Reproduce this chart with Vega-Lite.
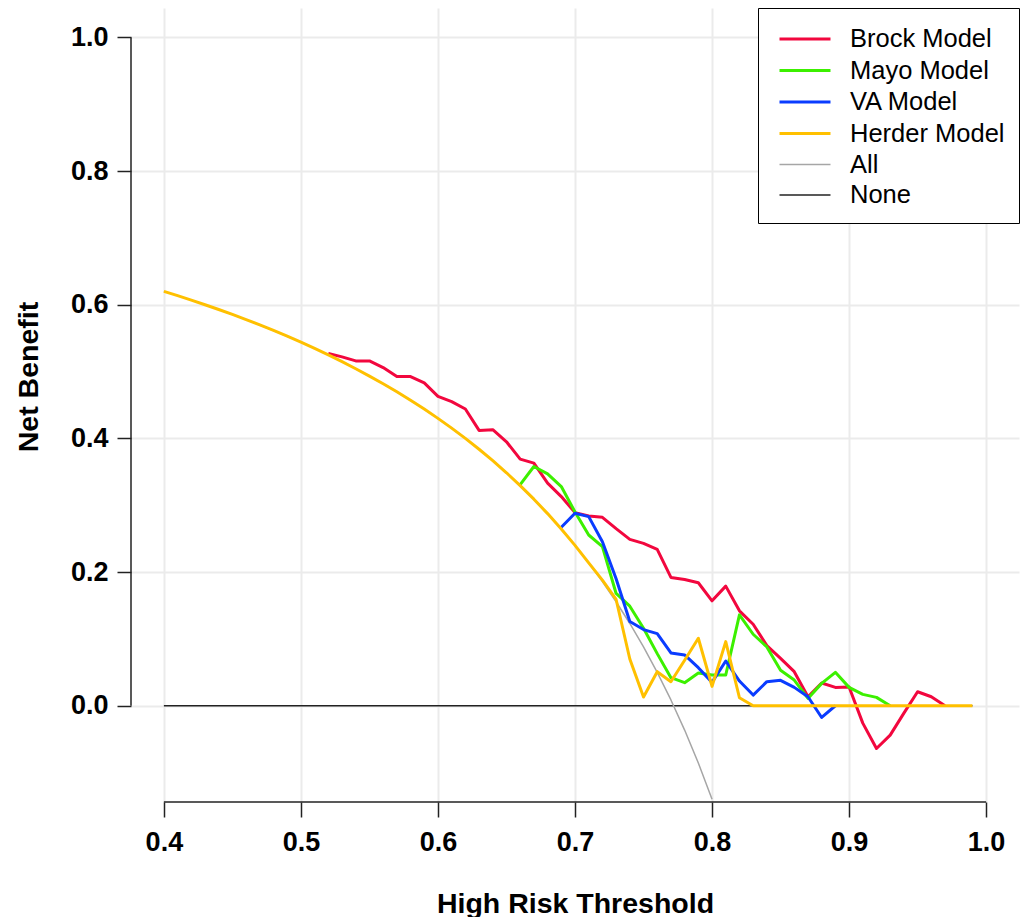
{
  "$schema": "https://vega.github.io/schema/vega-lite/v6.json",
  "width": 888,
  "height": 794,
  "autosize": "none",
  "padding": {"left": 131, "top": 8, "right": 5, "bottom": 115},
  "background": "white",
  "config": {"view": {"stroke": null}, "font": "Liberation Sans"},
  "data": {"values": [
    {"model": "None", "t": 0.40, "nb": 0},
    {"model": "None", "t": 0.99, "nb": 0},
    {"model": "All", "t": 0.40, "nb": 0.620},
    {"model": "All", "t": 0.41, "nb": 0.6136},
    {"model": "All", "t": 0.42, "nb": 0.6069},
    {"model": "All", "t": 0.43, "nb": 0.6000},
    {"model": "All", "t": 0.44, "nb": 0.5929},
    {"model": "All", "t": 0.45, "nb": 0.5855},
    {"model": "All", "t": 0.46, "nb": 0.5778},
    {"model": "All", "t": 0.47, "nb": 0.5698},
    {"model": "All", "t": 0.48, "nb": 0.5615},
    {"model": "All", "t": 0.49, "nb": 0.5529},
    {"model": "All", "t": 0.50, "nb": 0.5440},
    {"model": "All", "t": 0.51, "nb": 0.5347},
    {"model": "All", "t": 0.52, "nb": 0.5250},
    {"model": "All", "t": 0.53, "nb": 0.5149},
    {"model": "All", "t": 0.54, "nb": 0.5043},
    {"model": "All", "t": 0.55, "nb": 0.4933},
    {"model": "All", "t": 0.56, "nb": 0.4818},
    {"model": "All", "t": 0.57, "nb": 0.4698},
    {"model": "All", "t": 0.58, "nb": 0.4571},
    {"model": "All", "t": 0.59, "nb": 0.4439},
    {"model": "All", "t": 0.60, "nb": 0.4300},
    {"model": "All", "t": 0.61, "nb": 0.4154},
    {"model": "All", "t": 0.62, "nb": 0.4000},
    {"model": "All", "t": 0.63, "nb": 0.3838},
    {"model": "All", "t": 0.64, "nb": 0.3667},
    {"model": "All", "t": 0.65, "nb": 0.3486},
    {"model": "All", "t": 0.66, "nb": 0.3294},
    {"model": "All", "t": 0.67, "nb": 0.3091},
    {"model": "All", "t": 0.68, "nb": 0.2875},
    {"model": "All", "t": 0.69, "nb": 0.2645},
    {"model": "All", "t": 0.70, "nb": 0.2400},
    {"model": "All", "t": 0.71, "nb": 0.2138},
    {"model": "All", "t": 0.72, "nb": 0.1857},
    {"model": "All", "t": 0.73, "nb": 0.1556},
    {"model": "All", "t": 0.74, "nb": 0.1231},
    {"model": "All", "t": 0.75, "nb": 0.0880},
    {"model": "All", "t": 0.76, "nb": 0.0500},
    {"model": "All", "t": 0.77, "nb": 0.0087},
    {"model": "All", "t": 0.78, "nb": -0.0364},
    {"model": "All", "t": 0.79, "nb": -0.0857},
    {"model": "All", "t": 0.80, "nb": -0.1400},
    {"model": "Brock Model", "t": 0.52, "nb": 0.527},
    {"model": "Brock Model", "t": 0.53, "nb": 0.522},
    {"model": "Brock Model", "t": 0.54, "nb": 0.516},
    {"model": "Brock Model", "t": 0.55, "nb": 0.516},
    {"model": "Brock Model", "t": 0.56, "nb": 0.506},
    {"model": "Brock Model", "t": 0.57, "nb": 0.4925},
    {"model": "Brock Model", "t": 0.58, "nb": 0.4925},
    {"model": "Brock Model", "t": 0.59, "nb": 0.483},
    {"model": "Brock Model", "t": 0.60, "nb": 0.463},
    {"model": "Brock Model", "t": 0.61, "nb": 0.455},
    {"model": "Brock Model", "t": 0.62, "nb": 0.444},
    {"model": "Brock Model", "t": 0.63, "nb": 0.412},
    {"model": "Brock Model", "t": 0.64, "nb": 0.413},
    {"model": "Brock Model", "t": 0.65, "nb": 0.395},
    {"model": "Brock Model", "t": 0.66, "nb": 0.369},
    {"model": "Brock Model", "t": 0.67, "nb": 0.363},
    {"model": "Brock Model", "t": 0.68, "nb": 0.333},
    {"model": "Brock Model", "t": 0.69, "nb": 0.313},
    {"model": "Brock Model", "t": 0.70, "nb": 0.289},
    {"model": "Brock Model", "t": 0.71, "nb": 0.284},
    {"model": "Brock Model", "t": 0.72, "nb": 0.282},
    {"model": "Brock Model", "t": 0.73, "nb": 0.265},
    {"model": "Brock Model", "t": 0.74, "nb": 0.249},
    {"model": "Brock Model", "t": 0.75, "nb": 0.243},
    {"model": "Brock Model", "t": 0.76, "nb": 0.234},
    {"model": "Brock Model", "t": 0.77, "nb": 0.192},
    {"model": "Brock Model", "t": 0.78, "nb": 0.189},
    {"model": "Brock Model", "t": 0.79, "nb": 0.184},
    {"model": "Brock Model", "t": 0.80, "nb": 0.157},
    {"model": "Brock Model", "t": 0.81, "nb": 0.179},
    {"model": "Brock Model", "t": 0.82, "nb": 0.142},
    {"model": "Brock Model", "t": 0.83, "nb": 0.122},
    {"model": "Brock Model", "t": 0.84, "nb": 0.090},
    {"model": "Brock Model", "t": 0.85, "nb": 0.071},
    {"model": "Brock Model", "t": 0.86, "nb": 0.051},
    {"model": "Brock Model", "t": 0.87, "nb": 0.0135},
    {"model": "Brock Model", "t": 0.88, "nb": 0.034},
    {"model": "Brock Model", "t": 0.89, "nb": 0.0275},
    {"model": "Brock Model", "t": 0.90, "nb": 0.028},
    {"model": "Brock Model", "t": 0.91, "nb": -0.026},
    {"model": "Brock Model", "t": 0.92, "nb": -0.064},
    {"model": "Brock Model", "t": 0.93, "nb": -0.044},
    {"model": "Brock Model", "t": 0.94, "nb": -0.011},
    {"model": "Brock Model", "t": 0.95, "nb": 0.021},
    {"model": "Brock Model", "t": 0.96, "nb": 0.0135},
    {"model": "Brock Model", "t": 0.97, "nb": 0},
    {"model": "Mayo Model", "t": 0.66, "nb": 0.331},
    {"model": "Mayo Model", "t": 0.67, "nb": 0.358},
    {"model": "Mayo Model", "t": 0.68, "nb": 0.347},
    {"model": "Mayo Model", "t": 0.69, "nb": 0.328},
    {"model": "Mayo Model", "t": 0.70, "nb": 0.290},
    {"model": "Mayo Model", "t": 0.71, "nb": 0.2555},
    {"model": "Mayo Model", "t": 0.72, "nb": 0.238},
    {"model": "Mayo Model", "t": 0.73, "nb": 0.168},
    {"model": "Mayo Model", "t": 0.74, "nb": 0.149},
    {"model": "Mayo Model", "t": 0.75, "nb": 0.116},
    {"model": "Mayo Model", "t": 0.76, "nb": 0.078},
    {"model": "Mayo Model", "t": 0.77, "nb": 0.042},
    {"model": "Mayo Model", "t": 0.78, "nb": 0.0345},
    {"model": "Mayo Model", "t": 0.79, "nb": 0.049},
    {"model": "Mayo Model", "t": 0.80, "nb": 0.046},
    {"model": "Mayo Model", "t": 0.81, "nb": 0.046},
    {"model": "Mayo Model", "t": 0.82, "nb": 0.136},
    {"model": "Mayo Model", "t": 0.83, "nb": 0.107},
    {"model": "Mayo Model", "t": 0.84, "nb": 0.088},
    {"model": "Mayo Model", "t": 0.85, "nb": 0.053},
    {"model": "Mayo Model", "t": 0.86, "nb": 0.0385},
    {"model": "Mayo Model", "t": 0.87, "nb": 0.011},
    {"model": "Mayo Model", "t": 0.88, "nb": 0.0335},
    {"model": "Mayo Model", "t": 0.89, "nb": 0.050},
    {"model": "Mayo Model", "t": 0.90, "nb": 0.0275},
    {"model": "Mayo Model", "t": 0.91, "nb": 0.017},
    {"model": "Mayo Model", "t": 0.92, "nb": 0.0125},
    {"model": "Mayo Model", "t": 0.93, "nb": 0},
    {"model": "VA Model", "t": 0.69, "nb": 0.267},
    {"model": "VA Model", "t": 0.70, "nb": 0.288},
    {"model": "VA Model", "t": 0.71, "nb": 0.283},
    {"model": "VA Model", "t": 0.72, "nb": 0.2455},
    {"model": "VA Model", "t": 0.73, "nb": 0.190},
    {"model": "VA Model", "t": 0.74, "nb": 0.126},
    {"model": "VA Model", "t": 0.75, "nb": 0.114},
    {"model": "VA Model", "t": 0.76, "nb": 0.108},
    {"model": "VA Model", "t": 0.77, "nb": 0.079},
    {"model": "VA Model", "t": 0.78, "nb": 0.076},
    {"model": "VA Model", "t": 0.79, "nb": 0.057},
    {"model": "VA Model", "t": 0.80, "nb": 0.035},
    {"model": "VA Model", "t": 0.81, "nb": 0.067},
    {"model": "VA Model", "t": 0.82, "nb": 0.037},
    {"model": "VA Model", "t": 0.83, "nb": 0.016},
    {"model": "VA Model", "t": 0.84, "nb": 0.036},
    {"model": "VA Model", "t": 0.85, "nb": 0.038},
    {"model": "VA Model", "t": 0.86, "nb": 0.0275},
    {"model": "VA Model", "t": 0.87, "nb": 0.0135},
    {"model": "VA Model", "t": 0.88, "nb": -0.0175},
    {"model": "VA Model", "t": 0.89, "nb": 0},
    {"model": "Herder Model", "t": 0.40, "nb": 0.620},
    {"model": "Herder Model", "t": 0.41, "nb": 0.6136},
    {"model": "Herder Model", "t": 0.42, "nb": 0.6069},
    {"model": "Herder Model", "t": 0.43, "nb": 0.6000},
    {"model": "Herder Model", "t": 0.44, "nb": 0.5929},
    {"model": "Herder Model", "t": 0.45, "nb": 0.5855},
    {"model": "Herder Model", "t": 0.46, "nb": 0.5778},
    {"model": "Herder Model", "t": 0.47, "nb": 0.5698},
    {"model": "Herder Model", "t": 0.48, "nb": 0.5615},
    {"model": "Herder Model", "t": 0.49, "nb": 0.5529},
    {"model": "Herder Model", "t": 0.50, "nb": 0.5440},
    {"model": "Herder Model", "t": 0.51, "nb": 0.5347},
    {"model": "Herder Model", "t": 0.52, "nb": 0.5250},
    {"model": "Herder Model", "t": 0.53, "nb": 0.5149},
    {"model": "Herder Model", "t": 0.54, "nb": 0.5043},
    {"model": "Herder Model", "t": 0.55, "nb": 0.4933},
    {"model": "Herder Model", "t": 0.56, "nb": 0.4818},
    {"model": "Herder Model", "t": 0.57, "nb": 0.4698},
    {"model": "Herder Model", "t": 0.58, "nb": 0.4571},
    {"model": "Herder Model", "t": 0.59, "nb": 0.4439},
    {"model": "Herder Model", "t": 0.60, "nb": 0.4300},
    {"model": "Herder Model", "t": 0.61, "nb": 0.4154},
    {"model": "Herder Model", "t": 0.62, "nb": 0.4000},
    {"model": "Herder Model", "t": 0.63, "nb": 0.3838},
    {"model": "Herder Model", "t": 0.64, "nb": 0.3667},
    {"model": "Herder Model", "t": 0.65, "nb": 0.3486},
    {"model": "Herder Model", "t": 0.66, "nb": 0.3294},
    {"model": "Herder Model", "t": 0.67, "nb": 0.3091},
    {"model": "Herder Model", "t": 0.68, "nb": 0.2875},
    {"model": "Herder Model", "t": 0.69, "nb": 0.2645},
    {"model": "Herder Model", "t": 0.70, "nb": 0.2400},
    {"model": "Herder Model", "t": 0.71, "nb": 0.2138},
    {"model": "Herder Model", "t": 0.72, "nb": 0.1880},
    {"model": "Herder Model", "t": 0.73, "nb": 0.159},
    {"model": "Herder Model", "t": 0.74, "nb": 0.070},
    {"model": "Herder Model", "t": 0.75, "nb": 0.013},
    {"model": "Herder Model", "t": 0.76, "nb": 0.051},
    {"model": "Herder Model", "t": 0.77, "nb": 0.036},
    {"model": "Herder Model", "t": 0.78, "nb": 0.068},
    {"model": "Herder Model", "t": 0.79, "nb": 0.101},
    {"model": "Herder Model", "t": 0.80, "nb": 0.029},
    {"model": "Herder Model", "t": 0.81, "nb": 0.096},
    {"model": "Herder Model", "t": 0.82, "nb": 0.012},
    {"model": "Herder Model", "t": 0.83, "nb": 0},
    {"model": "Herder Model", "t": 0.84, "nb": 0},
    {"model": "Herder Model", "t": 0.85, "nb": 0},
    {"model": "Herder Model", "t": 0.86, "nb": 0},
    {"model": "Herder Model", "t": 0.87, "nb": 0},
    {"model": "Herder Model", "t": 0.88, "nb": 0},
    {"model": "Herder Model", "t": 0.89, "nb": 0},
    {"model": "Herder Model", "t": 0.90, "nb": 0},
    {"model": "Herder Model", "t": 0.91, "nb": 0},
    {"model": "Herder Model", "t": 0.92, "nb": 0},
    {"model": "Herder Model", "t": 0.93, "nb": 0},
    {"model": "Herder Model", "t": 0.94, "nb": 0},
    {"model": "Herder Model", "t": 0.95, "nb": 0},
    {"model": "Herder Model", "t": 0.96, "nb": 0},
    {"model": "Herder Model", "t": 0.97, "nb": 0},
    {"model": "Herder Model", "t": 0.98, "nb": 0},
    {"model": "Herder Model", "t": 0.99, "nb": 0}
  ]},
  "encoding": {
    "x": {
      "field": "t", "type": "quantitative", "title": "High Risk Threshold",
      "scale": {"domain": [0.376, 1.024], "nice": false, "zero": false},
      "axis": {
        "values": [0.4, 0.5, 0.6, 0.7, 0.8, 0.9, 1.0],
        "format": ".1f",
        "domain": false,
        "grid": true, "gridColor": "#EBEBEB", "gridWidth": 2,
        "ticks": true, "tickColor": "#222222", "tickWidth": 1.5, "tickSize": 15,
        "labelFont": "Liberation Sans", "labelFontWeight": "bold", "labelFontSize": 27,
        "labelColor": "black", "labelPadding": 12, "labelFlush": false, "labelOverlap": false,
        "titleFont": "Liberation Sans", "titleFontWeight": "bold", "titleFontSize": 28.5,
        "titleColor": "black", "titleY": 110, "titleBaseline": "alphabetic"
      }
    },
    "y": {
      "field": "nb", "type": "quantitative", "title": "Net Benefit",
      "scale": {"domain": [-0.144, 1.044], "nice": false, "zero": false},
      "axis": {
        "values": [0, 0.2, 0.4, 0.6, 0.8, 1.0],
        "format": ".1f",
        "domain": false,
        "grid": true, "gridColor": "#EBEBEB", "gridWidth": 2,
        "ticks": true, "tickColor": "#222222", "tickWidth": 1.5, "tickSize": 14,
        "labelFont": "Liberation Sans", "labelFontWeight": "bold", "labelFontSize": 27,
        "labelColor": "black", "labelPadding": 9, "labelFlush": false, "labelOverlap": false,
        "titleFont": "Liberation Sans", "titleFontWeight": "bold", "titleFontSize": 28.5,
        "titleColor": "black", "titleX": -94, "titleY": 368.5, "titleAngle": -90,
        "titleAlign": "center", "titleBaseline": "alphabetic"
      }
    },
    "color": {
      "field": "model", "type": "nominal",
      "scale": {
        "domain": ["Brock Model", "Mayo Model", "VA Model", "Herder Model", "All", "None"],
        "range": ["#F2073E", "#3CF000", "#0A3CFF", "#FFC000", "#A6A6A6", "#222222"]
      },
      "legend": {
        "title": null, "orient": "none", "legendX": 627, "legendY": 0,
        "strokeColor": "black", "fillColor": "white", "padding": 14, "cornerRadius": 0,
        "symbolType": "M-0.613,0H2.677", "symbolSize": 961,
        "labelFont": "Liberation Sans", "labelFontSize": 25.5, "labelColor": "black",
        "labelOffset": 44, "rowPadding": 0.5, "labelLimit": 400
      }
    },
    "strokeWidth": {
      "field": "model", "type": "nominal",
      "scale": {
        "type": "ordinal",
        "domain": ["Brock Model", "Mayo Model", "VA Model", "Herder Model", "All", "None"],
        "range": [3, 3, 3, 3, 1.5, 1.5]
      },
      "legend": {
        "title": null, "orient": "none", "legendX": 627, "legendY": 0,
        "strokeColor": "black", "fillColor": "white", "padding": 14, "cornerRadius": 0,
        "symbolType": "M-0.613,0H2.677", "symbolSize": 961,
        "labelFont": "Liberation Sans", "labelFontSize": 25.5, "labelColor": "black",
        "labelOffset": 44, "rowPadding": 0.5, "labelLimit": 400
      }
    }
  },
  "layer": [
    {
      "transform": [{"filter": "datum.model === 'None' || datum.model === 'All'"}],
      "mark": {"type": "line", "strokeJoin": "round"}
    },
    {
      "transform": [{"filter": "datum.model === 'Brock Model'"}],
      "mark": {"type": "line", "strokeJoin": "round"}
    },
    {
      "transform": [{"filter": "datum.model === 'Mayo Model'"}],
      "mark": {"type": "line", "strokeJoin": "round"}
    },
    {
      "transform": [{"filter": "datum.model === 'VA Model'"}],
      "mark": {"type": "line", "strokeJoin": "round"}
    },
    {
      "transform": [{"filter": "datum.model === 'Herder Model'"}],
      "mark": {"type": "line", "strokeJoin": "round"}
    },
    {
      "transform": [{"filter": "datum.model === 'None' && datum.t < 0.5"}],
      "mark": {"type": "rule", "stroke": "#222222", "strokeWidth": 1.5},
      "encoding": {
        "x": {"datum": 0.4, "type": "quantitative", "title": "High Risk Threshold"},
        "x2": {"datum": 1.0},
        "y": {"datum": -0.144, "type": "quantitative", "title": "Net Benefit"},
        "color": {"value": "#222222"},
        "strokeWidth": {"value": 1.5}
      }
    },
    {
      "transform": [{"filter": "datum.model === 'None' && datum.t < 0.5"}],
      "mark": {"type": "rule", "stroke": "#222222", "strokeWidth": 1.5},
      "encoding": {
        "x": {"datum": 0.376, "type": "quantitative", "title": "High Risk Threshold"},
        "y": {"datum": 0, "type": "quantitative", "title": "Net Benefit"},
        "y2": {"datum": 1.0},
        "color": {"value": "#222222"},
        "strokeWidth": {"value": 1.5}
      }
    }
  ]
}
